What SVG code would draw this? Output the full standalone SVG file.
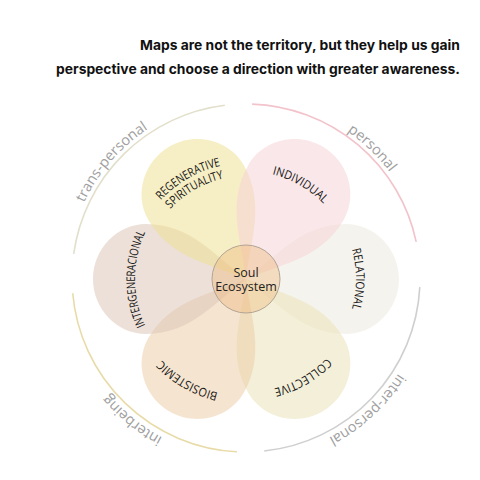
<svg xmlns="http://www.w3.org/2000/svg" xmlns:xlink="http://www.w3.org/1999/xlink" width="480" height="480" viewBox="0 0 480 480">
<style>
.title{font-family:"Inter","Liberation Sans",sans-serif;font-weight:700;font-size:13.5px;fill:#111}
.petal{fill-opacity:0.55}
.pl{font-family:"Open Sans","Noto Sans",sans-serif;font-size:12px;font-weight:500;fill:#151515}
.rl{font-family:"Open Sans","Noto Sans",sans-serif;font-size:14.5px;fill:#a0a0a0}
.ring{fill:none;stroke-width:1.6}
.ct{font-family:"Open Sans","Noto Sans",sans-serif;font-size:12.5px;fill:#222}
</style>
<defs>
<path id="pshape" d="M0,0 C30,-22 55,-55 100,-55 C129,-55 153,-30 153,0 C153,30 129,55 100,55 C55,55 30,22 0,0 Z"/>
<path id="c103" d="M246,382 A103,103 0 1 1 246,176 A103,103 0 1 1 246,382"/>
<path id="c108" d="M246,387 A108,108 0 1 1 246,171 A108,108 0 1 1 246,387"/>
<path id="c110" d="M246,389 A110,110 0 1 1 246,169 A110,110 0 1 1 246,389"/>
<path id="c111" d="M246,390 A111,111 0 1 1 246,168 A111,111 0 1 1 246,390"/>
<path id="c113" d="M246,392 A113,113 0 1 1 246,166 A113,113 0 1 1 246,392"/>
<path id="c116" d="M246,395 A116,116 0 1 1 246,163 A116,116 0 1 1 246,395"/>
<path id="c117" d="M246,396 A117,117 0 1 1 246,162 A117,117 0 1 1 246,396"/>
<path id="c179" d="M246,458 A179,179 0 1 1 246,100 A179,179 0 1 1 246,458"/>
</defs>
<rect width="480" height="480" fill="#fff"/>
<g id="title">
<text class="title" x="460" y="50" text-anchor="end" textLength="320" lengthAdjust="spacingAndGlyphs">Maps are not the territory, but they help us gain</text>
<text class="title" x="460" y="74" text-anchor="end" textLength="404" lengthAdjust="spacingAndGlyphs">perspective and choose a direction with greater awareness.</text>
</g>
<g id="connectors">
<path class="ring" stroke="#e2dfcb" d="M73.7,253.8 A174,174 0 0 1 224.8,105.3"/>
<path class="ring" stroke="#f2c3cb" d="M252.1,104.1 A174,174 0 0 1 416.2,241.8"/>
<path class="ring" stroke="#cfcfcf" d="M419.8,287.1 A174,174 0 0 1 264.2,451.0"/>
<path class="ring" stroke="#e8dba8" d="M236.9,451.8 A174,174 0 0 1 72.7,293.2"/>
</g>
<g id="ring-labels">
<text class="rl"><textPath xlink:href="#c179" href="#c179" startOffset="36.4%" text-anchor="middle">trans-personal</textPath></text>
<text class="rl"><textPath xlink:href="#c179" href="#c179" startOffset="62.2%" text-anchor="middle">personal</textPath></text>
<text class="rl"><textPath xlink:href="#c179" href="#c179" startOffset="88.1%" text-anchor="middle">inter-personal</textPath></text>
<text class="rl"><textPath xlink:href="#c179" href="#c179" startOffset="10.8%" text-anchor="middle">interbeing</textPath></text>
</g>
<g id="petal-relational">
<use href="#pshape" xlink:href="#pshape" class="petal" fill="#ede9de" transform="translate(246,279) rotate(0)"/>
</g>
<g id="petal-collective">
<use href="#pshape" xlink:href="#pshape" class="petal" fill="#e9e2b8" transform="translate(246,279) rotate(60)"/>
</g>
<g id="petal-biosistemic">
<use href="#pshape" xlink:href="#pshape" class="petal" fill="#edceaa" transform="translate(246,279) rotate(120)"/>
</g>
<g id="petal-intergeneracional">
<use href="#pshape" xlink:href="#pshape" class="petal" fill="#dcc7b8" transform="translate(246,279) rotate(180)"/>
</g>
<g id="petal-regenerative">
<use href="#pshape" xlink:href="#pshape" class="petal" fill="#efe094" transform="translate(246,279) rotate(240)"/>
</g>
<g id="petal-individual">
<use href="#pshape" xlink:href="#pshape" class="petal" fill="#f6d3d7" transform="translate(246,279) rotate(300)"/>
</g>
<g id="petal-labels">
<text class="pl"><textPath xlink:href="#c110" href="#c110" startOffset="75%" text-anchor="middle" textLength="60" lengthAdjust="spacingAndGlyphs">RELATIONAL</textPath></text>
<text class="pl"><textPath xlink:href="#c113" href="#c113" startOffset="91.667%" text-anchor="middle" textLength="62" lengthAdjust="spacingAndGlyphs">COLLECTIVE</textPath></text>
<text class="pl"><textPath xlink:href="#c117" href="#c117" startOffset="8.333%" text-anchor="middle" textLength="66" lengthAdjust="spacingAndGlyphs">BIOSISTEMIC</textPath></text>
<text class="pl"><textPath xlink:href="#c111" href="#c111" startOffset="25%" text-anchor="middle" textLength="96" lengthAdjust="spacingAndGlyphs">INTERGENERACIONAL</textPath></text>
<text class="pl"><textPath xlink:href="#c116" href="#c116" startOffset="41.667%" text-anchor="middle" textLength="70" lengthAdjust="spacingAndGlyphs">REGENERATIVE</textPath></text>
<text class="pl"><textPath xlink:href="#c103" href="#c103" startOffset="41.667%" text-anchor="middle" textLength="62" lengthAdjust="spacingAndGlyphs">SPIRITUALITY</textPath></text>
<text class="pl"><textPath xlink:href="#c108" href="#c108" startOffset="58.333%" text-anchor="middle" textLength="60" lengthAdjust="spacingAndGlyphs">INDIVIDUAL</textPath></text>
</g>
<g id="center">
<circle cx="246" cy="279" r="34" fill="#eeb97f" fill-opacity="0.42" stroke="#b3a494" stroke-width="1"/>
<text class="ct" x="246" y="277" text-anchor="middle">Soul</text>
<text class="ct" x="246" y="291" text-anchor="middle">Ecosystem</text>
</g>
</svg>
